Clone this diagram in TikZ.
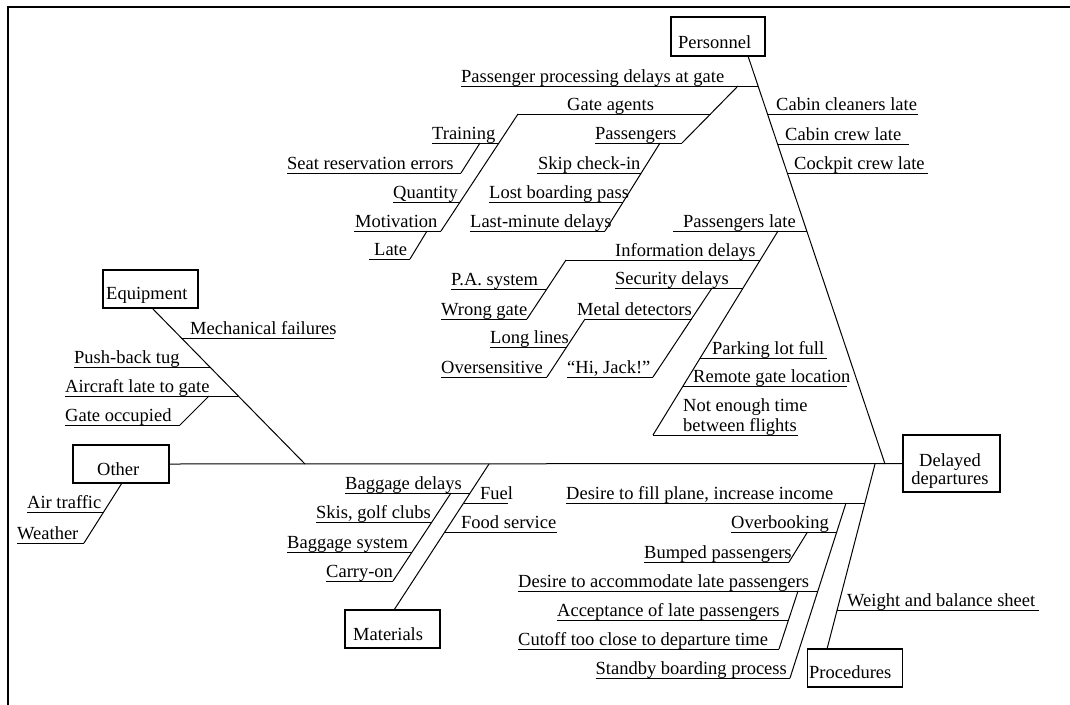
\documentclass[tikz,border=0pt]{standalone}
\usepackage{fontspec}
\setmainfont{Liberation Serif}
\begin{document}
\begin{tikzpicture}[x=1pt,y=-1pt,
  bone/.style={line width=1pt},
  boxed/.style={draw,line width=2.2pt,inner sep=0pt},
  lbl/.style={anchor=base west,inner sep=0pt,font=\fontsize{18.5}{20}\selectfont},
  blbl/.style={anchor=base west,inner sep=0pt,font=\fontsize{18.5}{20}\selectfont}]
\useasboundingbox (0,0) rectangle (1070,704);
\clip (0,0) rectangle (1070,704);
\newcommand\fbc[6]{%
  \coordinate (#1-l) at (#2,#4);
  \coordinate (#1-r) at (#3,#4);
  \node[lbl] (#1) at (#5,#4-4) {#6};
  \draw[bone] (#1-l) -- (#1-r);}
% frame
\draw[line width=2.8pt] (1080,7) -- (8,7) -- (8,712);
% boxes
\node[boxed,minimum width=94pt,minimum height=39pt] (pers) at (718,36.5) {};
\node[blbl] (pers-t) at (678,48) {Personnel};
\node[boxed,minimum width=95pt,minimum height=38pt] (equip) at (150.5,289) {};
\node[blbl] (equip-t) at (106,299) {Equipment};
\node[boxed,minimum width=96pt,minimum height=38pt] (other) at (121,464) {};
\node[blbl] (other-t) at (97,475) {Other};
\node[boxed,minimum width=95pt,minimum height=38pt] (mat) at (392.5,629) {};
\node[blbl] (mat-t) at (353,640) {Materials};
\node[boxed,minimum width=97pt,minimum height=57pt] (eff) at (951.5,463.5) {};
\node[anchor=base,inner sep=0pt,font=\fontsize{18.5}{18}\selectfont,align=center] (eff-t) at (950,484) {Delayed\\departures};
\node[draw,line width=1.4pt,inner sep=0pt,minimum width=95pt,minimum height=38pt] (proc) at (855,668) {};
\node[blbl] (proc-t) at (809,678) {Procedures};
% spine
\draw[bone] (other.east) -- (eff.west);
% main bones
\coordinate (persb) at (748,56);   \coordinate (pj) at (885,464);
\coordinate (prj) at (875,464);    \coordinate (prb) at (827,649);
\coordinate (eqb) at (152,308);    \coordinate (eqj) at (305,464);
\coordinate (mtj) at (489,464);    \coordinate (mtb) at (394,610);
\coordinate (otb) at (122,483);
\draw[bone] (persb) -- (pj);
\draw[bone] (prj) -- (prb);
\draw[bone] (eqb) -- (eqj);
\draw[bone] (mtj) -- (mtb);
% Personnel
\fbc{cabcl}{767.5}{918}{114}{776}{Cabin cleaners late}
\fbc{cabcr}{777.6}{909}{144}{785}{Cabin crew late}
\fbc{cock}{787.3}{928}{173}{794}{Cockpit crew late}
\fbc{ppd}{461}{758.1}{86}{461}{Passenger processing delays at gate}
\fbc{gate}{518}{710.5}{114}{567}{Gate agents}
\fbc{pass}{595}{682}{143}{595}{Passengers}
\fbc{train}{432}{498.9}{143}{432}{Training}
\fbc{seat}{287}{461}{173}{287}{Seat reservation errors}
\fbc{quant}{393}{460.1}{202}{393}{Quantity}
\fbc{motiv}{354}{441}{231}{355}{Motivation}
\fbc{late}{369}{410}{259}{374}{Late}
\fbc{skip}{537}{641.3}{173}{538}{Skip check-in}
\fbc{lost}{489}{623.1}{202}{489}{Lost boarding pass}
\fbc{lastmin}{470}{605}{231}{470}{Last-minute delays}
\coordinate (ppd-j) at (738,86);
\coordinate (train-j) at (480,143);
\coordinate (motiv-j) at (427,231);
\coordinate (pass-j) at (660,143);
\draw[bone] (ppd-j) -- (pass-r);
\draw[bone] (gate-l) -- (motiv-r);
\draw[bone] (train-j) -- (seat-r);
\draw[bone] (motiv-j) -- (late-r);
\draw[bone] (pass-j) -- (lastmin-r);
% Passengers late
\fbc{plate}{673}{806.8}{231}{683}{Passengers late}
\fbc{info}{566}{760.2}{260}{615}{Information delays}
\fbc{secur}{615}{743.1}{288}{615}{Security delays}
\fbc{park}{700.2}{827}{358}{712}{Parking lot full}
\fbc{remote}{683}{847}{386}{693}{Remote gate location}
\coordinate (nett-l) at (653,435);
\coordinate (nett-r) at (798,435);
\draw[bone] (nett-l) -- (nett-r);
\node[lbl,align=left,font=\fontsize{18.5}{20}\selectfont] (nett) at (683,431) {Not enough time\\between flights};
\fbc{pa}{451}{546.8}{289}{451}{P.A. system}
\fbc{wrong}{441}{527}{319}{441}{Wrong gate}
\fbc{metal}{585}{691.5}{319}{577}{Metal detectors}
\fbc{long}{490}{566.7}{347}{490}{Long lines}
\fbc{overs}{441}{547}{377}{441}{Oversensitive}
\fbc{hijack}{567}{653}{377}{567}{“Hi, Jack!”}
\coordinate (plate-j) at (778,231);
\coordinate (secur-j) at (712,288);
\draw[bone] (plate-j) -- (nett-l);
\draw[bone] (info-l) -- (wrong-r);
\draw[bone] (secur-j) -- (hijack-r);
\draw[bone] (metal-l) -- (overs-r);
% Equipment
\fbc{mech}{181.4}{334}{338}{190}{Mechanical failures}
\fbc{push}{74}{209.9}{367}{74}{Push-back tug}
\fbc{acl}{65}{238.3}{396}{65}{Aircraft late to gate}
\fbc{gocc}{65}{180}{425}{65}{Gate occupied}
\coordinate (acl-j) at (209,396);
\draw[bone] (acl-j) -- (gocc-r);
% Other
\fbc{air}{27}{103.6}{512}{27}{Air traffic}
\fbc{weather}{17}{84}{543}{17}{Weather}
\draw[bone] (otb) -- (weather-r);
% Materials
\fbc{fuel}{463.6}{508}{503}{480}{Fuel}
\fbc{food}{444.8}{557}{532}{461}{Food service}
\fbc{bagd}{345}{470.1}{493}{345}{Baggage delays}
\fbc{skis}{316}{431.9}{522}{316}{Skis, golf clubs}
\fbc{bags}{287}{412.1}{552}{287}{Baggage system}
\fbc{carry}{326}{393}{581}{326}{Carry-on}
\coordinate (bagd-j) at (451,493);
\draw[bone] (bagd-j) -- (carry-r);
% Procedures
\fbc{weight}{837.1}{1039}{610}{847}{Weight and balance sheet}
\fbc{dfill}{566}{864.9}{503}{566}{Desire to fill plane, increase income}
\fbc{overb}{731}{836.7}{532}{731}{Overbooking}
\fbc{bump}{644}{789}{562}{644}{Bumped passengers}
\fbc{dacc}{518}{817.8}{591}{518}{Desire to accommodate late passengers}
\fbc{accept}{557}{788.5}{620}{557}{Acceptance of late passengers}
\fbc{cutoff}{518}{779}{649}{518}{Cutoff too close to departure time}
\fbc{standby}{595.5}{790}{678}{595.5}{Standby boarding process}
\coordinate (dfill-j) at (846,503);
\coordinate (overb-j) at (807.5,532);
\coordinate (dacc-j) at (798,591);
\draw[bone] (dfill-j) -- (standby-r);
\draw[bone] (overb-j) -- (bump-r);
\draw[bone] (dacc-j) -- (cutoff-r);
\end{tikzpicture}
\end{document}
